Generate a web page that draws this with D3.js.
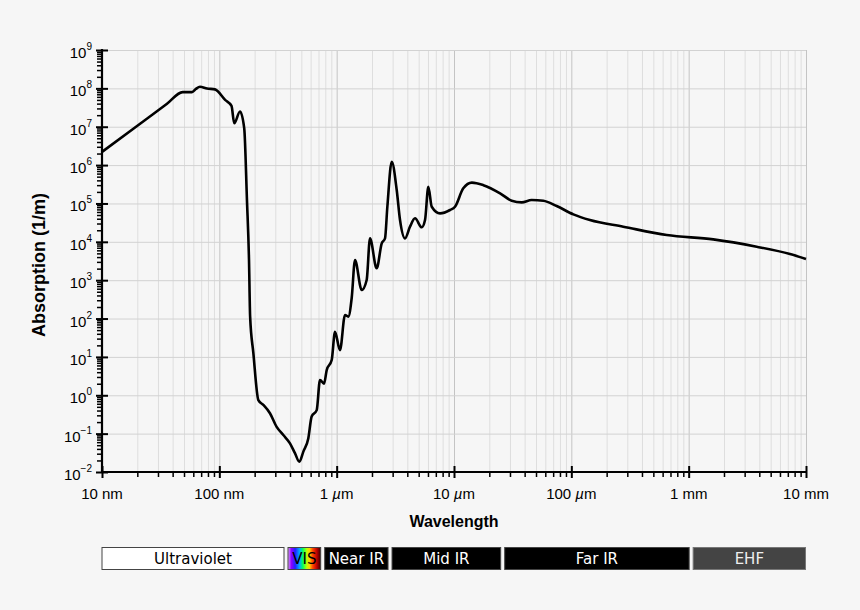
<!DOCTYPE html>
<html>
<head>
<meta charset="utf-8">
<script src="https://cdn.jsdelivr.net/npm/d3@7"></script>
<style>
  body { margin: 0; background: #f6f6f6; }
  svg { display: block; }
</style>
</head>
<body>
<script>
// wavelength (nm) and absorption coefficient (1/m)
var wavelengthNm = [10, 18.5, 35.6, 48.7, 58.5, 63, 68.4, 78.5, 91.8, 112, 127, 134, 150, 163, 172, 179, 183,
    195, 215, 237, 270, 308, 351, 400, 441, 481, 520, 573, 612, 676, 721, 780, 822, 907, 968, 1067, 1178,
    1256, 1343, 1433, 1634, 1802, 1923, 2193, 2421, 2583, 2704, 2946, 3249, 3467, 3823, 4217, 4653, 5309,
    5664, 6044, 6460, 7600, 9250, 10200, 12000, 14200, 17800, 24700, 31000, 37800, 45900, 57700, 75000,
    104000, 144000, 277000, 650000, 1620000, 3800000, 7300000, 10000000];
var absorption = [2.2e6, 8.9e6, 3.9e7, 8.0e7, 8.0e7, 9.6e7, 1.1e8, 9.9e7, 9.4e7, 5.0e7, 3.5e7, 1.23e7, 2.5e7,
    9.1e6, 1.2e5, 3.4e3, 112, 12.6, 0.75, 0.56, 0.34, 0.15, 0.092, 0.056, 0.031, 0.0185, 0.034, 0.075, 0.28,
    0.41, 2.5, 2.0, 4.5, 8.3, 45, 15, 124, 112, 343, 3360, 553, 1010, 12300, 2040, 9140, 12300, 82000,
    1.22e6, 2.24e5, 37000, 12300, 24800, 41000, 23900, 37000, 2.73e5, 82000, 55000, 67500, 82000, 2.48e5,
    3.5e5, 3.0e5, 1.84e5, 1.18e5, 1.07e5, 1.23e5, 1.18e5, 85700, 52000, 37000, 24800, 15000, 11600, 7450,
    4800, 3560];

// axis ticks
var xMajorNm = [10, 100, 1000, 10000, 100000, 1000000, 10000000];
var xTickNum = ["10", "100", "1", "10", "100", "1", "10"];
var xTickUnit = ["nm", "nm", "µm", "µm", "µm", "mm", "mm"];
var yExponents = [-2, -1, 0, 1, 2, 3, 4, 5, 6, 7, 8, 9];

// spectral bands under the chart
var bandNames = ["Ultraviolet", "VIS", "Near IR", "Mid IR", "Far IR", "EHF"];
var bandStartNm = [10, 370, 760, 2850, 26000, 1050000];
var bandEndNm = [370, 760, 2850, 26000, 1050000, 10000000];
var bandFill = ["#ffffff", "url(#vis)", "#000000", "#000000", "#000000", "#444444"];
var bandText = ["#000000", "#000000", "#ffffff", "#ffffff", "#ffffff", "#eeeeee"];

var W = 860, H = 610;
var margin = {left: 102, right: 54, top: 50, bottom: 138};
var width = W - margin.left - margin.right,
    height = H - margin.top - margin.bottom;

var svg = d3.select("body").append("svg")
    .attr("width", W)
    .attr("height", H)
    .style("font-family", "'Liberation Sans', Arial, sans-serif");

svg.append("rect").attr("width", W).attr("height", H).attr("fill", "#f6f6f6");

var x = d3.scaleLog().domain([10, 1e7]).range([margin.left, margin.left + width]);
var y = d3.scaleLog().domain([1e-2, 1e9]).range([margin.top + height, margin.top]);

// minor ticks 2..9 per decade
var xMinor = [];
xMajorNm.slice(0, -1).forEach(function(d){
    for (var k = 2; k <= 9; k++) xMinor.push(d * k);
});
var yMajor = yExponents.map(function(e){ return Math.pow(10, e); });
var yMinor = [];
yMajor.slice(0, -1).forEach(function(d){
    for (var k = 2; k <= 9; k++) yMinor.push(d * k);
});

// grid
svg.append("g")
    .attr("transform", "translate(0," + (margin.top + height) + ")")
    .call(d3.axisBottom(x).tickValues(xMinor).tickSize(-height).tickFormat(""))
    .call(function(g){ g.select(".domain").remove(); })
    .selectAll(".tick line").attr("stroke", "#dedede");
svg.append("g")
    .attr("transform", "translate(0," + (margin.top + height) + ")")
    .call(d3.axisBottom(x).tickValues(xMajorNm).tickSize(-height).tickFormat(""))
    .call(function(g){ g.select(".domain").remove(); })
    .selectAll(".tick line").attr("stroke", "#c4c4c4");
svg.append("g")
    .attr("transform", "translate(" + margin.left + ",0)")
    .call(d3.axisLeft(y).tickValues(yMajor).tickSize(-width).tickFormat(""))
    .call(function(g){ g.select(".domain").remove(); })
    .selectAll(".tick line").attr("stroke", "#d2d2d2");

// curve
var pts = wavelengthNm.map(function(d, i){ return [d, absorption[i]]; });
var line = d3.line()
    .x(function(d){ return x(d[0]); })
    .y(function(d){ return y(d[1]); })
    .curve(d3.curveMonotoneX);
svg.append("path")
    .datum(pts)
    .attr("d", line)
    .attr("fill", "none")
    .attr("stroke", "#000")
    .attr("stroke-width", 2.6)
    .attr("stroke-linejoin", "round");

// x axis
var xAxisG = svg.append("g").attr("transform", "translate(0," + (margin.top + height) + ")");
xAxisG.append("g")
    .call(d3.axisBottom(x).tickValues(xMinor).tickSize(5).tickFormat(""))
    .call(function(g){ g.select(".domain").remove(); })
    .selectAll(".tick line").attr("stroke", "#000").attr("stroke-width", 1.5);
xAxisG.append("g")
    .call(d3.axisBottom(x).tickValues(xMajorNm).tickSize(6).tickFormat(""))
    .call(function(g){ g.select(".domain").remove(); })
    .selectAll(".tick line").attr("y1", -6).attr("stroke", "#000").attr("stroke-width", 2);
xAxisG.append("line")
    .attr("x1", margin.left - 1).attr("x2", margin.left + width + 1)
    .attr("stroke", "#000").attr("stroke-width", 2.2);

var xLabels = xAxisG.selectAll(".xlab")
    .data(xMajorNm)
    .enter().append("text")
    .attr("class", "xlab")
    .attr("x", function(d){ return x(d); })
    .attr("y", 27)
    .attr("text-anchor", "middle")
    .attr("font-size", 15)
    .attr("fill", "#000");
xLabels.append("tspan").text(function(d, i){ return xTickNum[i] + " "; });
xLabels.append("tspan")
    .attr("font-style", function(d, i){ return xTickUnit[i] == "µm" ? "italic" : "normal"; })
    .text(function(d, i){ return xTickUnit[i].charAt(0); });
xLabels.append("tspan").text(function(d, i){ return xTickUnit[i].slice(1); });

// y axis
var yAxisG = svg.append("g").attr("transform", "translate(" + margin.left + ",0)");
yAxisG.append("g")
    .call(d3.axisLeft(y).tickValues(yMinor).tickSize(5).tickFormat(""))
    .call(function(g){ g.select(".domain").remove(); })
    .selectAll(".tick line").attr("stroke", "#000").attr("stroke-width", 1.5);
yAxisG.append("g")
    .call(d3.axisLeft(y).tickValues(yMajor).tickSize(6).tickFormat(""))
    .call(function(g){ g.select(".domain").remove(); })
    .selectAll(".tick line").attr("x1", 6).attr("stroke", "#000").attr("stroke-width", 2);
yAxisG.append("line")
    .attr("y1", margin.top - 1).attr("y2", margin.top + height + 1)
    .attr("stroke", "#000").attr("stroke-width", 2.2);

var yLabels = yAxisG.selectAll(".ylab")
    .data(yExponents)
    .enter().append("text")
    .attr("class", "ylab")
    .attr("x", -10)
    .attr("y", function(d){ return y(Math.pow(10, d)) + 8; })
    .attr("text-anchor", "end")
    .attr("font-size", 15)
    .attr("fill", "#000");
yLabels.append("tspan").text("10");
yLabels.append("tspan")
    .attr("font-size", 10)
    .attr("dy", -8)
    .text(function(d){ return d < 0 ? "\u2212" + Math.abs(d) : d; });

// axis titles
svg.append("text")
    .attr("x", margin.left + width / 2)
    .attr("y", 527)
    .attr("text-anchor", "middle")
    .attr("font-size", 16)
    .attr("font-weight", "bold")
    .text("Wavelength");
svg.append("text")
    .attr("transform", "translate(45,265) rotate(-90)")
    .attr("text-anchor", "middle")
    .attr("font-size", 18)
    .attr("font-weight", "bold")
    .text("Absorption (1/m)");

// visible spectrum gradient
var grad = svg.append("defs").append("linearGradient").attr("id", "vis");
var visStops = [[0, "#e0a8ff"], [0.1, "#9000ff"], [0.22, "#2020ff"], [0.35, "#00a8ff"], [0.45, "#00ff60"],
    [0.58, "#c0ff00"], [0.66, "#ffd000"], [0.76, "#ff4000"], [0.88, "#c00000"], [1, "#300000"]];
grad.selectAll("stop").data(visStops).enter().append("stop")
    .attr("offset", function(d){ return d[0]; })
    .attr("stop-color", function(d){ return d[1]; });

// bands
var bandG = svg.append("g");
var bands = bandG.selectAll("g")
    .data(bandNames)
    .enter().append("g");
function bx0(i){ return i == 0 ? x(bandStartNm[i]) : x(bandStartNm[i]) + 2; }
function bx1(i){ return i == bandNames.length - 1 ? x(bandEndNm[i]) - 0.5 : x(bandEndNm[i]) - 2; }
bands.append("rect")
    .attr("x", function(d, i){ return bx0(i); })
    .attr("width", function(d, i){ return bx1(i) - bx0(i); })
    .attr("y", 547.5)
    .attr("height", 22)
    .attr("fill", function(d, i){ return bandFill[i]; })
    .attr("stroke", function(d, i){ return i == 5 ? "#777" : "#444"; })
    .attr("stroke-width", 1);
bands.append("text")
    .attr("x", function(d, i){ return (bx0(i) + bx1(i)) / 2; })
    .attr("y", 564)
    .attr("text-anchor", "middle")
    .attr("font-family", "'DejaVu Sans', sans-serif")
    .attr("font-size", 15)
    .attr("fill", function(d, i){ return bandText[i]; })
    .text(function(d){ return d; });
</script>
</body>
</html>
